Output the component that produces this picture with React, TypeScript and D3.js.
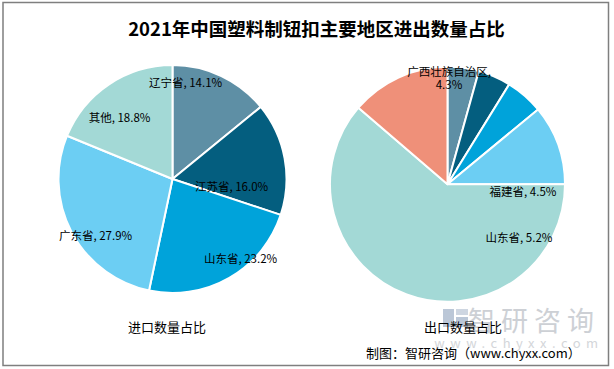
import React from 'react';
import * as d3 from 'd3';

const title = '2021年中国塑料制钮扣主要地区进出数量占比';
const importCategories = ['辽宁省', '江苏省', '山东省', '广东省', '其他'];
const importValues = [14.1, 16.0, 23.2, 27.9, 18.8];
const importColors = ['#5e8fa5', '#045e7f', '#00a3da', '#6ccef3', '#a3d9d6'];

const exportCategories = ['广西壮族自治区', '福建省', '山东省', '江苏省', '浙江省', '其他'];
const exportValues = [4.3, 4.5, 5.2, 11.0, 61.3, 13.7];
const exportColors = ['#5e8fa5', '#045e7f', '#00a3da', '#6ccef3', '#a3d9d6', '#ef9079'];
const exportShowLabel = [true, true, true, false, false, false];

const importTitle = '进口数量占比';
const exportTitle = '出口数量占比';
const sourceText = '制图：智研咨询（www.chyxx.com）';

// label layout (offsets from pie centre, in px)
const importLabelOffsets: [number, number][] = [[13, -97], [59, 7], [68, 79], [-77, 56], [-53, -62]];
const exportLabelOffsets: [number, number][] = [[1.5, -107], [75.5, 7], [71.5, 53], [0, 0], [0, 0], [0, 0]];

const FONT = '"Noto Sans CJK SC", "Microsoft YaHei", sans-serif';

function Pie({ cx, cy, r, values, colors, labels, offsets, show, multiLine }: any) {
  const pie = d3.pie<number>().sort(null).value((d) => d)(values);
  const arc = d3.arc<d3.PieArcDatum<number>>().innerRadius(0).outerRadius(r);
  return (
    <g transform={`translate(${cx},${cy})`}>
      {pie.map((p, i) => (
        <path key={i} d={arc(p) || ''} fill={colors[i]} stroke="#fff" strokeWidth={2} strokeLinejoin="round" />
      ))}
      {pie.map((p, i) => {
        if (show && !show[i]) return null;
        const [dx, dy] = offsets[i];
        const pct = `${d3.format('.1f')(values[i])}%`;
        if (multiLine && labels[i].length > 4) {
          return (
            <text key={'l' + i} x={dx} y={dy} textAnchor="middle" fontSize={11.5} fill="#000" fontFamily={FONT}>
              <tspan x={dx} dy={-6.5} dominantBaseline="central">{labels[i] + ','}</tspan>
              <tspan x={dx} dy={13} dominantBaseline="central">{pct}</tspan>
            </text>
          );
        }
        return (
          <text key={'l' + i} x={dx} y={dy} textAnchor="middle" dominantBaseline="central" fontSize={11.5} fill="#000" fontFamily={FONT}>
            {`${labels[i]}, ${pct}`}
          </text>
        );
      })}
    </g>
  );
}

export default function App() {
  const W = 614, H = 369;
  return (
    <svg width={W} height={H} style={{ position: 'absolute', left: 0, top: 0, background: '#fff' }} fontFamily={FONT}>
      <rect x={0} y={0} width={W} height={H} fill="#fff" />
      <rect x={3} y={2.5} width={605.5} height={363} fill="none" stroke="#7f7f7f" strokeWidth={1.5} />
      <text x={316.5} y={28} textAnchor="middle" dominantBaseline="central" fontSize={18.5} fontWeight="bold" fill="#000">{title}</text>

      {/* watermark */}
      <g opacity={0.9}>
        <rect x={443} y={309} width={11} height={18} fill="#b4c2d3" />
        <rect x={456} y={309} width={12} height={6} fill="#c9d2de" />
        <rect x={456} y={317} width={12} height={10} fill="#b4c2d3" />
        <text x={534} y={319} textAnchor="middle" dominantBaseline="central" fontSize={27} fill="#c8ccd1" letterSpacing={6}>智研咨询</text>
        <text x={519} y={342} textAnchor="middle" dominantBaseline="central" fontSize={13} fill="#cfd2d6" letterSpacing={5.5}>www.chyxx.com</text>
      </g>

      <Pie cx={172.5} cy={179} r={114} values={importValues} colors={importColors} labels={importCategories} offsets={importLabelOffsets} />
      <Pie cx={447.5} cy={184.3} r={117.5} values={exportValues} colors={exportColors} labels={exportCategories} offsets={exportLabelOffsets} show={exportShowLabel} multiLine />

      <text x={167} y={326} textAnchor="middle" dominantBaseline="central" fontSize={13} fill="#000">{importTitle}</text>
      <text x={463} y={326.5} textAnchor="middle" dominantBaseline="central" fontSize={13} fill="#000">{exportTitle}</text>
      <text x={366} y={352} dominantBaseline="central" fontSize={13} fill="#000">{sourceText}</text>
    </svg>
  );
}
